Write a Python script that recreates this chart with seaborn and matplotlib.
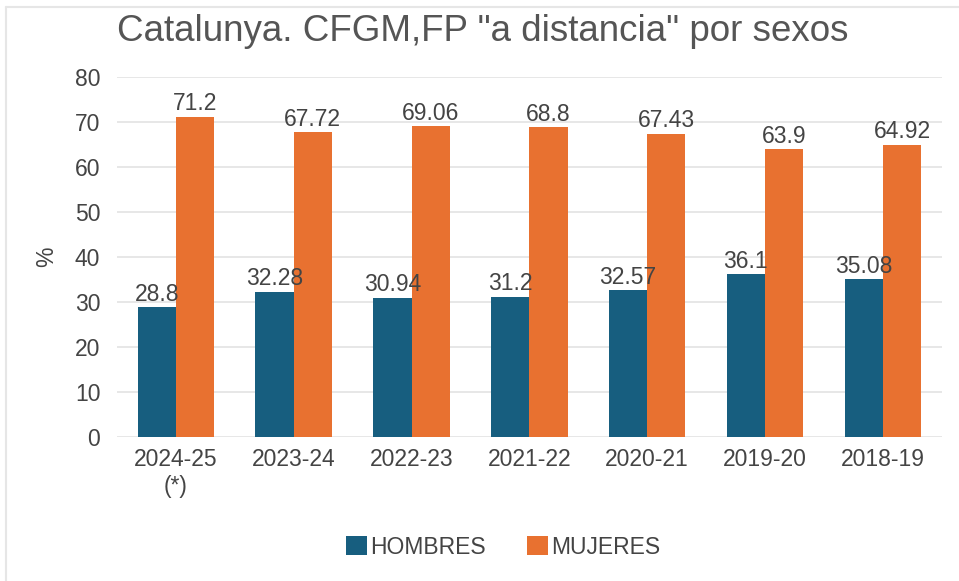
import matplotlib
matplotlib.use("Agg")
import matplotlib.pyplot as plt
import seaborn as sns
import pandas as pd
from matplotlib.lines import Line2D
from matplotlib.patches import Patch

categories = ["2024-25\n(*)", "2023-24", "2022-23", "2021-22", "2020-21", "2019-20", "2018-19"]
hombres = [28.8, 32.28, 30.94, 31.2, 32.57, 36.1, 35.08]
mujeres = [71.2, 67.72, 69.06, 68.8, 67.43, 63.9, 64.92]
hombres_lbl = ["28.8", "32.28", "30.94", "31.2", "32.57", "36.1", "35.08"]
mujeres_lbl = ["71.2", "67.72", "69.06", "68.8", "67.43", "63.9", "64.92"]
series = ["HOMBRES", "MUJERES"]
yticks = [0, 10, 20, 30, 40, 50, 60, 70, 80]

colors = {"HOMBRES": "#175e7f", "MUJERES": "#e87130"}

df = pd.DataFrame({
    "curso": categories * 2,
    "valor": hombres + mujeres,
    "sexo": [series[0]] * len(categories) + [series[1]] * len(categories),
    "lbl": hombres_lbl + mujeres_lbl,
})

sns.set_style("white")
plt.rcParams["font.family"] = ["Liberation Sans", "DejaVu Sans"]

fs = 16.5
fig = plt.figure(figsize=(9.59, 5.81), dpi=100)
ax = fig.add_axes([0.122, 0.248, 0.86, 0.6195])

sns.barplot(data=df, x="curso", y="valor", hue="sexo", order=categories,
            hue_order=series, palette=colors, width=0.65, gap=0,
            saturation=1, ax=ax, legend=False, linewidth=0)

txtc = "#444444"
for cont, labels in zip(ax.containers, [hombres_lbl, mujeres_lbl]):
    ax.bar_label(cont, labels=labels, padding=1, fontsize=fs, color=txtc)

ax.set_ylim(0, 80)
ax.set_xlim(-0.5, len(categories) - 0.5)
ax.set_yticks(yticks)
ax.set_yticklabels([str(v) for v in yticks])
ax.yaxis.grid(True, color="#e3e3e3", linewidth=1.2)
ax.set_axisbelow(True)
for s in ax.spines.values():
    s.set_visible(False)
ax.tick_params(axis="both", length=0, labelsize=fs, labelcolor=txtc)
ax.tick_params(axis="x", pad=8)
ax.tick_params(axis="y", pad=12)
ax.set_xlabel("")
ax.set_ylabel("%", fontsize=fs, color=txtc, labelpad=12)

fig.text(0.122, 0.945, 'Catalunya. CFGM,FP "a distancia" por sexos',
         fontsize=26.5, color="#555555", ha="left", va="center")

handles = [Patch(facecolor=colors[s], edgecolor="none") for s in series]
fig.legend(handles, series, loc="center", bbox_to_anchor=(0.525, 0.058),
           ncol=2, frameon=False, fontsize=fs, handlelength=0.9,
           handleheight=0.9, handletextpad=0.15, columnspacing=1.8,
           labelcolor=txtc)

fig.add_artist(Line2D([0.006, 1.0], [0.988, 0.988], color="#e6e6e6", lw=1.5, transform=fig.transFigure))
fig.add_artist(Line2D([0.006, 0.006], [0.0, 0.988], color="#e6e6e6", lw=1.5, transform=fig.transFigure))

fig.savefig("out.png", dpi=100)
